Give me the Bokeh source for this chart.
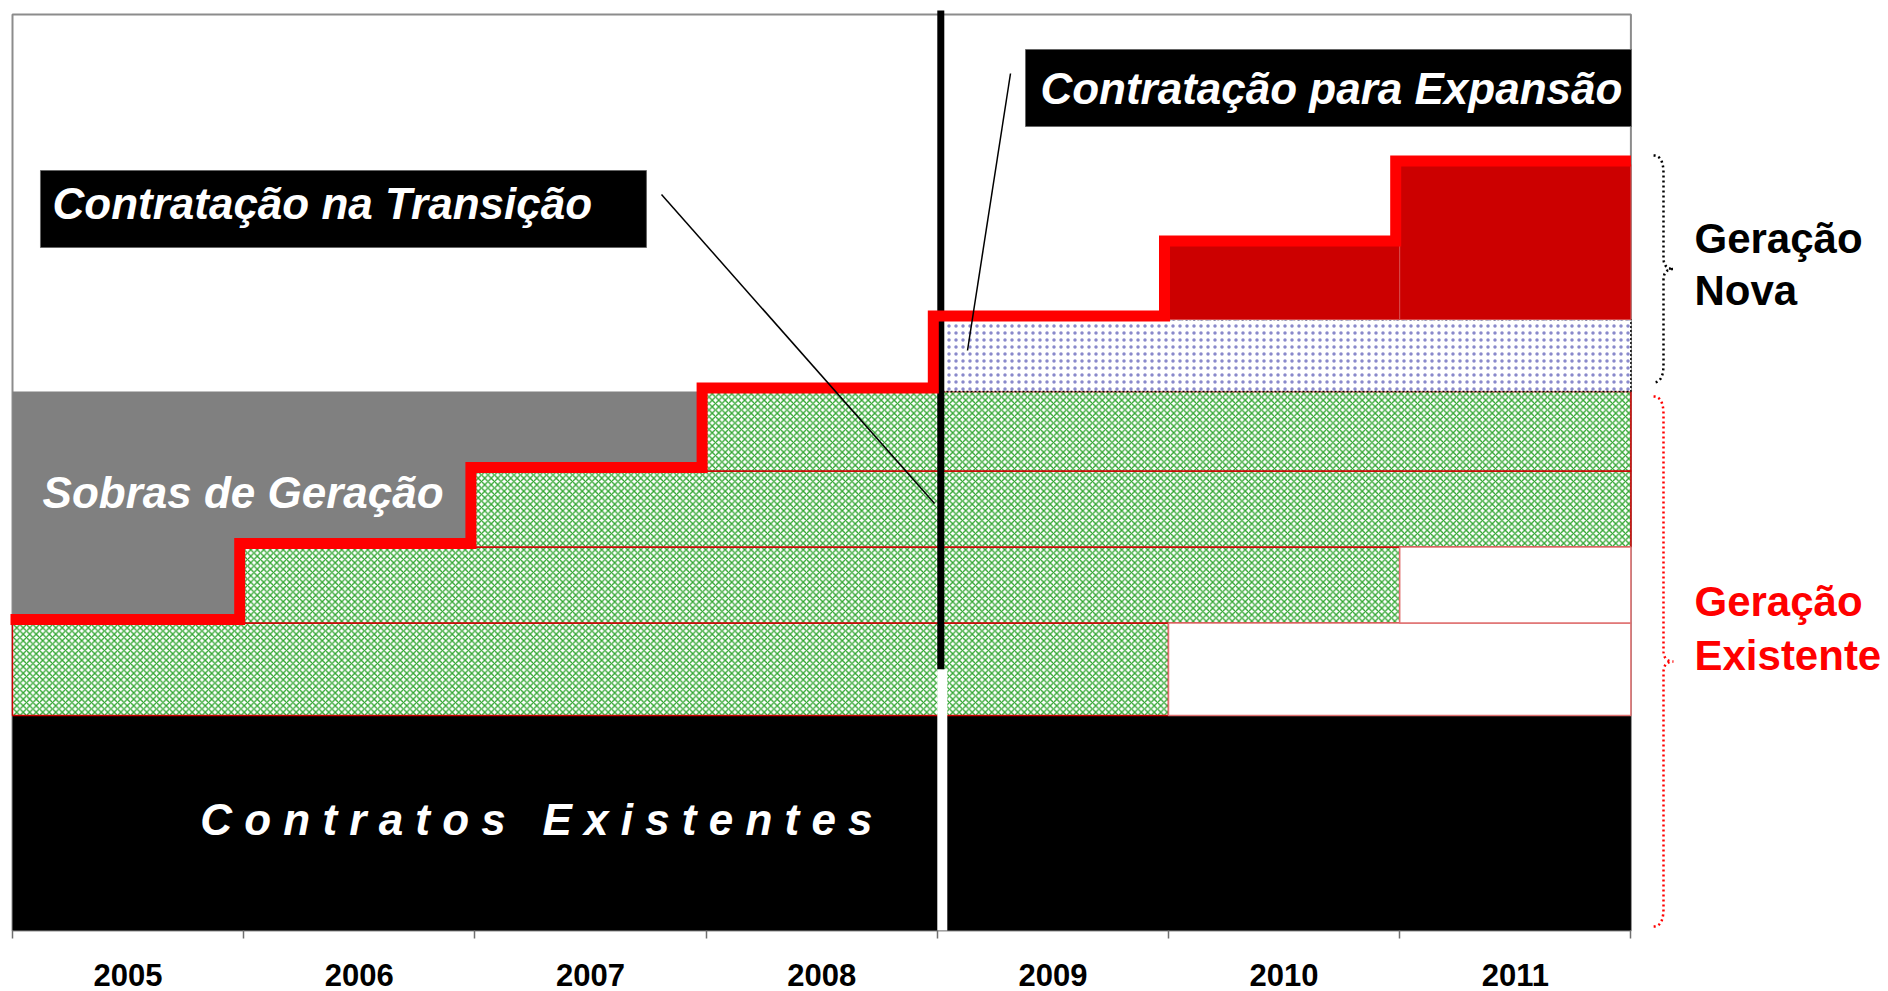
import numpy as np
from bokeh.plotting import figure
from bokeh.models import Range1d, LinearAxis, FixedTicker
from bokeh.core.properties import value
from bokeh.embed import file_html
from bokeh.resources import INLINE

# ---------------- data ----------------
years = [2005, 2006, 2007, 2008, 2009, 2010, 2011]
year_labels = ["2005", "2006", "2007", "2008", "2009", "2010", "2011"]
horizon_end = 2012

existing_contracts = 43.0                      # Contratos Existentes

transition_start = [2005, 2006, 2007, 2008]    # Contratação na Transição
transition_end = [2010, 2011, 2012, 2012]
transition_size = [18.5, 15.2, 15.2, 15.9]

expansion_start = 2009                         # Contratação para Expansão
expansion_base = 14.4                          # dotted band
new_gen_years = [2010, 2011]                   # Geração Nova (solid red)
new_gen_size = [15.0, 31.0]

chart_top = 183.2

# ---------------- derived ----------------
row_bottom = existing_contracts + np.concatenate([[0.0], np.cumsum(transition_size)[:-1]])
row_top = row_bottom + np.array(transition_size)
sobras_top = row_top[-1]
expansion_top = sobras_top + expansion_base

levels = []
for y in years:
    if y < expansion_start:
        active = [t for s, t in zip(transition_start, row_top) if s <= y]
        levels.append(max(active))
    else:
        extra = dict(zip(new_gen_years, new_gen_size)).get(y, 0.0)
        levels.append(expansion_top + extra)

# ---------------- figure ----------------
W, H = 1888, 991
ppx = 231.2                      # px per year
ppy = 5.0                        # px per unit
x0 = years[0] - 12 / ppx
x1 = x0 + W / ppx
y1 = 930 / ppy
y0 = y1 - H / ppy

p = figure(width=W, height=H, output_backend="svg", toolbar_location=None,
           x_range=Range1d(x0, x1), y_range=Range1d(y0, y1),
           x_axis_location=None, y_axis_location=None, min_border=0,
           min_border_left=0, min_border_right=0, min_border_top=0, min_border_bottom=0,
           outline_line_color=None, background_fill_color="white",
           border_fill_color="white")
p.grid.visible = False

SANS = value("Liberation Sans")

# frame
p.quad(left=[years[0]], right=[horizon_end], bottom=[0], top=[chart_top],
       fill_color=None, line_color="#8C8C8C", line_width=2)

# Sobras de Geração (gray)
p.quad(left=[years[0]], right=[expansion_start - 1], bottom=[row_top[0]], top=[sobras_top],
       fill_color="#808080", line_color=None)

# Contratos Existentes (black)
p.quad(left=[years[0]], right=[horizon_end], bottom=[0], top=[existing_contracts],
       fill_color="black", line_color=None)

# transition contracts (green cross hatch)
p.quad(left=transition_start, right=transition_end, bottom=row_bottom, top=row_top,
       fill_color="white", line_color="#CC0000", line_width=1.5,
       hatch_pattern="diagonal_cross", hatch_color="#25A025", hatch_scale=6.5,
       hatch_weight=1.3, hatch_alpha=0.95)

# expired portions (white boxes)
exp_l = [e for e in transition_end if e < horizon_end]
exp_b = [b for b, e in zip(row_bottom, transition_end) if e < horizon_end]
exp_t = [t for t, e in zip(row_top, transition_end) if e < horizon_end]
p.quad(left=exp_l, right=[horizon_end] * len(exp_l), bottom=exp_b, top=exp_t,
       fill_color="white", line_color="#E07070", line_width=1.5)

# expansion dotted band
p.quad(left=[expansion_start], right=[horizon_end], bottom=[sobras_top], top=[expansion_top],
       fill_color="white", line_color="black", line_width=1.5, line_dash="2 2",
       hatch_pattern="dot", hatch_color="#3A3AA8", hatch_scale=7, hatch_weight=1.0,
       hatch_alpha=0.6)

# new generation (solid red)
p.quad(left=new_gen_years, right=[y + 1 for y in new_gen_years],
       bottom=[expansion_top] * len(new_gen_years),
       top=[expansion_top + s for s in new_gen_size],
       fill_color="#CC0000", line_color="#D84A4A", line_width=1)

# transition marker: white gap below, black bar above
row1_mid = (row_bottom[0] + row_top[0]) / 2
p.segment(x0=[expansion_start + 5 / ppx], y0=[0], x1=[expansion_start + 5 / ppx], y1=[row1_mid],
          line_color="white", line_width=10)
p.segment(x0=[expansion_start + 3.5 / ppx], y0=[row1_mid], x1=[expansion_start + 3.5 / ppx],
          y1=[chart_top + 0.8], line_color="black", line_width=7)

# red step line (total contracted)
dx = -4 / ppx
dy = 0.7
sx = [years[0] - 2 / ppx] + [y + dx for y in years[1:]] + [horizon_end]
sy = [l + dy for l in levels] + [levels[-1] + dy]
p.step(x=sx, y=sy, mode="after", line_color="#FF0000", line_width=11, line_join="miter")

# label boxes
p.quad(left=[2005.121], right=[2007.742], bottom=[136.6], top=[152.0],
       fill_color="black", line_color="#666666", line_width=1)
p.quad(left=[2009.3815], right=[2012.0026], bottom=[160.8], top=[176.2],
       fill_color="black", line_color="#666666", line_width=1)

# pointers
p.segment(x0=[2007.807, 2009.3166], y0=[147.2, 171.4], x1=[2008.988, 2009.1306], y1=[85.4, 116.0],
          line_color="black", line_width=1.5)

# braces
def brace(yt, yb, xe, xs, xt, k, k2):
    t = np.linspace(0, 1, 20)
    def q(p0, c, p1):
        return ((1 - t) ** 2 * p0[0] + 2 * (1 - t) * t * c[0] + t ** 2 * p1[0],
                (1 - t) ** 2 * p0[1] + 2 * (1 - t) * t * c[1] + t ** 2 * p1[1])
    ym = (yt + yb) / 2
    parts = [q((xe, yt), (xs, yt), (xs, yt - k)),
             ([xs, xs], [yt - k, ym + k2]),
             q((xs, ym + k2), (xs, ym), (xt, ym)),
             q((xt, ym), (xs, ym), (xs, ym - k2)),
             ([xs, xs], [ym - k2, yb + k]),
             q((xs, yb + k), (xs, yb), (xe, yb))]
    xx = np.concatenate([np.asarray(a[0], float) for a in parts])
    yy = np.concatenate([np.asarray(a[1], float) for a in parts])
    return xx, yy

bx, by = brace(levels[-1] + 1.8, sobras_top + 1.8, 2012.098, 2012.141, 2012.184, 3.6, 2.2)
p.line(bx, by, line_color="black", line_width=2.5, line_dash="2 3")
bx, by = brace(sobras_top - 1.0, 0.8, 2012.098, 2012.141, 2012.184, 3.6, 2.2)
p.line(bx, by, line_color="#FF0000", line_width=2.5, line_dash="2 3")

# texts (baseline correction for rendered text offset)
def tdy(fs):
    return 0.34 * fs / ppy

def label(x, y, txt, color, style, fs, align="left"):
    p.text(x=x, y=[v + tdy(fs) for v in y], text=txt, text_color=color,
           text_font=SANS, text_font_style=style, text_font_size=f"{fs}px",
           text_baseline="alphabetic", text_align=align)

label([2005.173], [142.4], ["Contratação na Transição"], "white", "bold italic", 44)
label([2009.446], [165.4], ["Contratação para Expansão"], "white", "bold italic", 44)
label([2005.130], [84.6], ["Sobras de Geração"], "white", "bold italic", 44)
label([2007.266], [19.2], ["C o n t r a t o s\u00a0\u00a0\u00a0E x i s t e n t e s"],
      "white", "bold italic", 44, align="center")
label([2012.275, 2012.275], [135.6, 125.2], ["Geração", "Nova"], "black", "bold", 42)
label([2012.275, 2012.275], [63.0, 52.2], ["Geração", "Existente"], "#FF0000", "bold", 42)

# x axis (years)
centers = [y + 0.5 for y in years]
edges = years + [horizon_end]
xaxis = LinearAxis(fixed_location=0,
                   ticker=FixedTicker(ticks=centers, minor_ticks=edges),
                   major_label_overrides={c: lab for c, lab in zip(centers, year_labels)},
                   axis_line_color=None, major_tick_line_color=None,
                   major_tick_out=0, major_tick_in=0,
                   minor_tick_line_color="#707070", minor_tick_line_width=1.5,
                   minor_tick_out=8, minor_tick_in=0,
                   major_label_standoff=25,
                   major_label_text_font="Liberation Sans",
                   major_label_text_font_style="bold",
                   major_label_text_font_size="31px",
                   major_label_text_color="black")
p.add_layout(xaxis, "below")

open("out.html", "w").write(file_html(p, INLINE))
